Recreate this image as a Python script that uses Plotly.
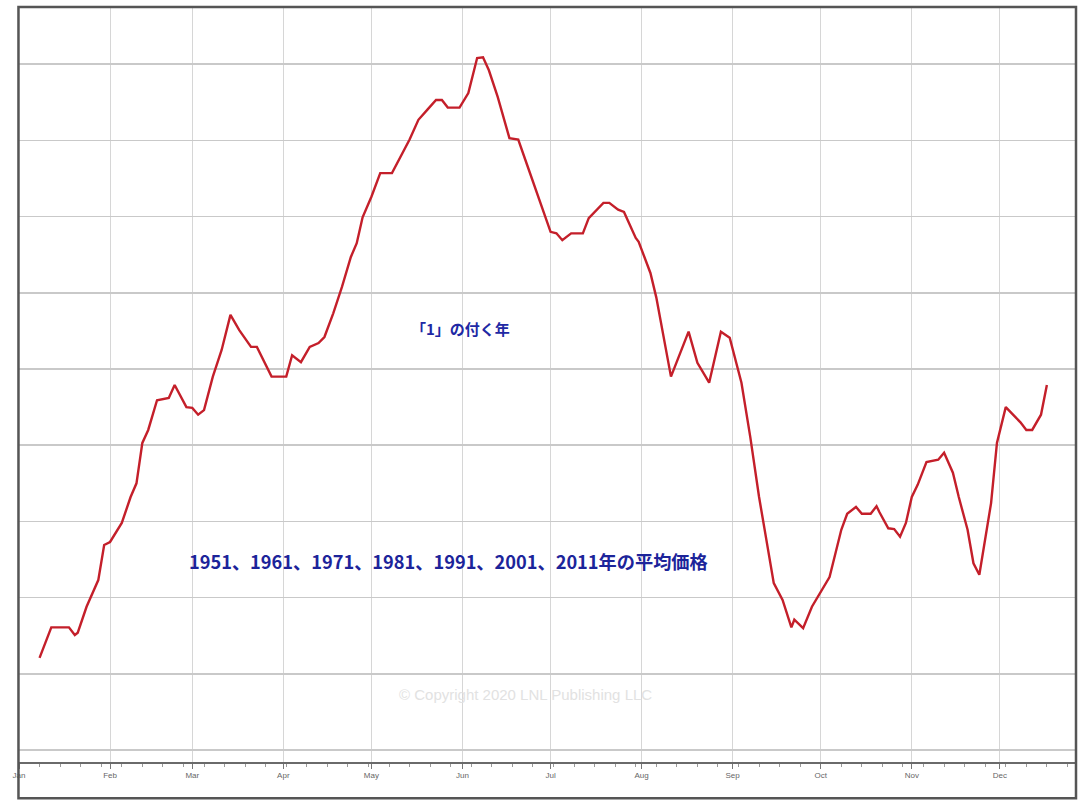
import plotly.graph_objects as go

# Seasonal average path (relative index, one unit = one horizontal gridline)
dates = [
    "2021-01-08", "2021-01-12", "2021-01-18", "2021-01-20", "2021-01-21", "2021-01-24",
    "2021-01-28", "2021-01-30", "2021-02-01", "2021-02-05", "2021-02-08", "2021-02-10",
    "2021-02-12", "2021-02-14", "2021-02-17", "2021-02-21", "2021-02-23", "2021-02-27",
    "2021-03-01", "2021-03-03", "2021-03-05", "2021-03-08", "2021-03-11", "2021-03-14",
    "2021-03-17", "2021-03-21", "2021-03-23", "2021-03-28", "2021-04-02", "2021-04-04",
    "2021-04-07", "2021-04-10", "2021-04-13", "2021-04-15", "2021-04-18", "2021-04-21",
    "2021-04-24", "2021-04-26", "2021-04-28", "2021-05-01", "2021-05-04", "2021-05-08",
    "2021-05-14", "2021-05-17", "2021-05-20", "2021-05-23", "2021-05-25", "2021-05-27",
    "2021-05-31", "2021-06-03", "2021-06-06", "2021-06-08", "2021-06-10", "2021-06-13",
    "2021-06-17", "2021-06-20", "2021-06-23", "2021-06-28", "2021-07-01", "2021-07-03",
    "2021-07-05", "2021-07-08", "2021-07-12", "2021-07-14", "2021-07-19", "2021-07-21",
    "2021-07-24", "2021-07-26", "2021-07-30", "2021-07-31", "2021-08-04", "2021-08-06",
    "2021-08-09", "2021-08-11", "2021-08-17", "2021-08-20", "2021-08-24", "2021-08-28",
    "2021-08-31", "2021-09-04", "2021-09-07", "2021-09-10", "2021-09-15", "2021-09-18",
    "2021-09-21", "2021-09-22", "2021-09-25", "2021-09-28", "2021-10-04", "2021-10-08",
    "2021-10-10", "2021-10-13", "2021-10-15", "2021-10-18", "2021-10-20", "2021-10-21",
    "2021-10-24", "2021-10-26", "2021-10-28", "2021-10-30", "2021-11-01", "2021-11-03",
    "2021-11-06", "2021-11-10", "2021-11-12", "2021-11-15", "2021-11-17", "2021-11-20",
    "2021-11-22", "2021-11-24", "2021-11-28", "2021-11-30", "2021-12-03", "2021-12-05",
    "2021-12-08", "2021-12-10", "2021-12-12", "2021-12-15", "2021-12-17",
]
values = [
    1.21, 1.61, 1.61, 1.51, 1.54, 1.88,
    2.23, 2.69, 2.73, 2.98, 3.32, 3.50,
    4.03, 4.20, 4.59, 4.62, 4.79, 4.50,
    4.49, 4.40, 4.46, 4.90, 5.25, 5.71,
    5.51, 5.29, 5.29, 4.90, 4.90, 5.18,
    5.09, 5.29, 5.34, 5.42, 5.73, 6.08,
    6.47, 6.65, 6.99, 7.26, 7.57, 7.57,
    8.01, 8.27, 8.40, 8.53, 8.53, 8.43,
    8.43, 8.62, 9.08, 9.09, 8.92, 8.57,
    8.03, 8.01, 7.68, 7.13, 6.80, 6.78,
    6.69, 6.78, 6.78, 6.98, 7.18, 7.18,
    7.09, 7.06, 6.72, 6.67, 6.26, 5.94,
    5.29, 4.90, 5.49, 5.08, 4.82, 5.49,
    5.41, 4.82, 4.11, 3.32, 2.19, 1.97,
    1.61, 1.71, 1.60, 1.88, 2.27, 2.89,
    3.10, 3.19, 3.10, 3.10, 3.20, 3.12,
    2.91, 2.90, 2.80, 2.98, 3.32, 3.48,
    3.78, 3.81, 3.90, 3.64, 3.32, 2.89,
    2.45, 2.30, 3.24, 4.03, 4.50, 4.42,
    4.30, 4.20, 4.20, 4.40, 4.79,
]

title_main = "「1」の付く年"
title_sub = "1951、1961、1971、1981、1991、2001、2011年の平均価格"
copyright_text = "© Copyright 2020 LNL Publishing LLC"

fig = go.Figure()
fig.add_trace(go.Scatter(
    x=dates, y=values, mode="lines",
    line=dict(color="#c41f2a", width=2.4),
    hoverinfo="skip", showlegend=False,
))

fig.update_layout(
    width=1089, height=801,
    margin=dict(l=19, r=13, t=7, b=39),
    paper_bgcolor="white", plot_bgcolor="white",
    showlegend=False,
    xaxis=dict(
        type="date",
        range=["2021-01-01", "2021-12-26 22:00"],
        dtick="M1", tick0="2021-01-01", tickformat="%b",
        showgrid=True, gridcolor="#d6d6d6", gridwidth=1,
        showline=True, linecolor="#6a6a6a", linewidth=1.5,
        ticks="outside", ticklen=5, tickcolor="#777",
        tickfont=dict(family="Liberation Sans, Arial", size=8, color="#666"),
        minor=dict(dtick=7 * 86400000, tick0="2021-01-01", ticks="outside",
                   ticklen=3, tickcolor="#999", showgrid=False),
        zeroline=False, fixedrange=True,
    ),
    yaxis=dict(
        range=[-0.157, 9.75],
        dtick=1, tick0=0,
        showticklabels=False, ticks="",
        showgrid=True, gridcolor="#c9c9c9", gridwidth=1.5,
        zeroline=False, showline=False, fixedrange=True,
    ),
    annotations=[
        dict(text=title_main, x=0.418, y=0.574, xref="paper", yref="paper",
             showarrow=False, xanchor="center", yanchor="middle",
             font=dict(family="Noto Sans CJK JP", size=15, color="#2028a4", weight="bold")),
        dict(text=title_sub, x=0.406, y=0.266, xref="paper", yref="paper",
             showarrow=False, xanchor="center", yanchor="middle",
             font=dict(family="Noto Sans CJK JP", size=18.2, color="#1c249a", weight="bold")),
        dict(text=copyright_text, x=0.479, y=0.089, xref="paper", yref="paper",
             showarrow=False, xanchor="center", yanchor="middle",
             font=dict(family="Liberation Sans, Arial", size=15, color="#e2e2e2")),
    ],
    shapes=[
        dict(type="rect", xref="paper", yref="paper", x0=-0.0005, x1=1.0, y0=-0.048, y1=1.0,
             line=dict(color="#555555", width=2.5), fillcolor="rgba(0,0,0,0)", layer="above"),
    ],
)

fig.write_html(
    "out.html",
    config={"displayModeBar": False, "staticPlot": True},
    post_script="document.body.style.margin='0';document.body.style.overflow='hidden';",
)
